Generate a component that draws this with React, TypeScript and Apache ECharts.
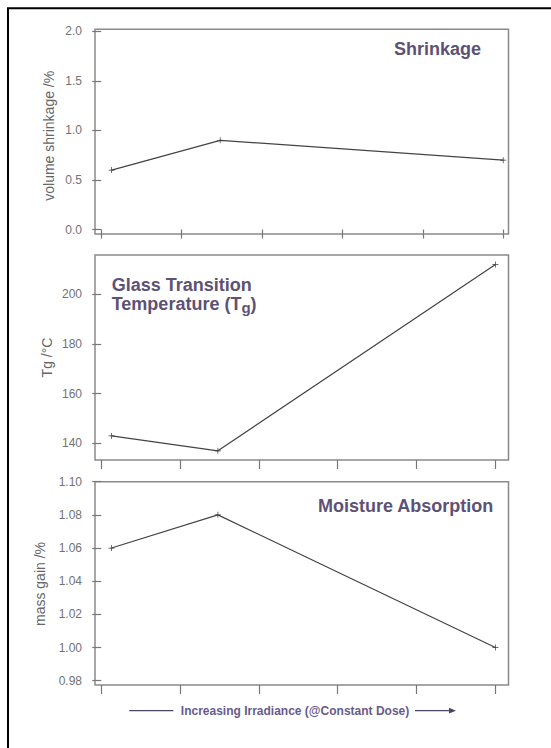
import React, { useEffect, useRef } from "react";
import * as echarts from "echarts";

// Irradiance levels (positions along the shared, unlabelled irradiance axis)
const irradiance = [0.13, 1.48, 5.0];
const xTickValues = [0, 1, 2, 3, 4, 5];

// Measured properties at each irradiance level
const shrinkage = [0.6, 0.9, 0.7];
const glassTransition = [143, 137, 212];
const massGain = [1.06, 1.08, 1.0];

// Tick labels on each vertical axis
const shrinkageTicks = [0, 0.5, 1.0, 1.5, 2.0];
const tgTicks = [140, 160, 180, 200];
const massGainTicks = [0.98, 1.0, 1.02, 1.04, 1.06, 1.08, 1.1];

const FONT = "'Liberation Sans', Arial, Helvetica, sans-serif";
const TITLE_COLOR = "#5d5175";
const AXIS_GRAY = "#8a8a8a";
const LABEL_GRAY = "#727272";
const PLUS = "path://M0,2.2H2.2V0H2.8V2.2H5V2.8H2.8V5H2.2V2.8H0Z";

const panels = [
  { top: 29.3, height: 204.7, yMin: -0.045, yMax: 2.02, xMin: -0.077, xMax: 5.066, ticks: shrinkageTicks, digits: 1, values: shrinkage },
  { top: 255, height: 205, yMin: 133.3, yMax: 215.8, xMin: -0.079, xMax: 5.166, ticks: tgTicks, digits: 0, values: glassTransition },
  { top: 481.7, height: 203.3, yMin: 0.9774, yMax: 1.1, xMin: -0.079, xMax: 5.166, ticks: massGainTicks, digits: 2, values: massGain },
];

export default function App() {
  const ref = useRef<HTMLDivElement>(null);

  useEffect(() => {
    if (!ref.current) return;
    const chart = echarts.init(ref.current, null, { renderer: "svg" });

    const grid = panels.map((p) => ({
      left: 95,
      width: 413.5,
      top: p.top,
      height: p.height,
      show: true,
      borderColor: AXIS_GRAY,
      borderWidth: 1.5,
      backgroundColor: "#fff",
    }));

    const xAxis = panels.map((p, i) => ({
      type: "value",
      gridIndex: i,
      min: p.xMin,
      max: p.xMax,
      axisLine: { show: false },
      axisTick: { show: true, length: 9, customValues: xTickValues, lineStyle: { color: "#777", width: 1.2 } },
      axisLabel: { show: false },
      splitLine: { show: false },
    }));

    const yAxis = panels.map((p, i) => ({
      type: "value",
      gridIndex: i,
      min: p.yMin,
      max: p.yMax,
      axisLine: { show: false },
      axisTick: { show: true, length: 9, customValues: p.ticks, lineStyle: { color: "#777", width: 1.2 } },
      axisLabel: {
        show: true,
        customValues: p.ticks,
        margin: 13,
        color: LABEL_GRAY,
        fontFamily: FONT,
        fontSize: 12,
        formatter: (v: number) => v.toFixed(p.digits),
      },
      splitLine: { show: false },
    }));

    const series = panels.map((p, i) => ({
      type: "line",
      xAxisIndex: i,
      yAxisIndex: i,
      data: irradiance.map((x, k) => [x, p.values[k]]),
      symbol: PLUS,
      symbolSize: 6,
      showSymbol: true,
      itemStyle: { color: "#3c3c3c" },
      lineStyle: { color: "#444", width: 1.2 },
      silent: true,
    }));

    const titleStyle = (text: string) => ({
      text,
      fill: TITLE_COLOR,
      fontFamily: FONT,
      fontWeight: "bold",
      fontSize: 18,
      verticalAlign: "middle",
    });

    const yName = (text: string, x: number, y: number) => ({
      type: "text",
      x,
      y,
      rotation: Math.PI / 2,
      style: {
        text,
        fill: "#666",
        fontFamily: FONT,
        fontSize: 14,
        align: "center",
        verticalAlign: "middle",
      },
    });

    const graphic = [
      // outer frame
      {
        type: "rect",
        shape: { x: 8, y: 8.3, width: 700, height: 900 },
        style: { fill: "none", stroke: "#000", lineWidth: 2 },
        silent: true,
      },
      { type: "text", x: 394, y: 48.5, style: titleStyle("Shrinkage") },
      { type: "text", x: 111.7, y: 284.5, style: titleStyle("Glass Transition") },
      {
        type: "text",
        x: 111.7,
        y: 304,
        style: {
          text: "{a|Temperature (T}{s|g}{a|)}",
          verticalAlign: "middle",
          rich: {
            a: { fill: TITLE_COLOR, fontFamily: FONT, fontWeight: "bold", fontSize: 18, lineHeight: 22, verticalAlign: "middle" },
            s: { fill: TITLE_COLOR, fontFamily: FONT, fontWeight: "bold", fontSize: 15, lineHeight: 22, verticalAlign: "bottom" },
          },
        },
      },
      { type: "text", x: 318, y: 506, style: titleStyle("Moisture Absorption") },
      yName("volume shrinkage /%", 49.3, 135.8),
      yName("Tg /°C", 46.5, 357.5),
      yName("mass gain /%", 40, 584),
      // irradiance arrow under the bottom panel
      { type: "line", shape: { x1: 129.3, y1: 710.7, x2: 173.3, y2: 710.7 }, style: { stroke: "#4e4466", lineWidth: 1.3 } },
      { type: "line", shape: { x1: 415, y1: 710.7, x2: 450, y2: 710.7 }, style: { stroke: "#4e4466", lineWidth: 1.3 } },
      { type: "polygon", shape: { points: [[449, 707.8], [456, 710.7], [449, 713.6]] }, style: { fill: "#4e4466" } },
      {
        type: "text",
        x: 295,
        y: 710.7,
        style: {
          text: "Increasing Irradiance (@Constant Dose)",
          fill: "#685b8c",
          fontFamily: FONT,
          fontWeight: "bold",
          fontSize: 12,
          align: "center",
          verticalAlign: "middle",
        },
      },
    ];

    chart.setOption({
      animation: false,
      backgroundColor: "#fff",
      grid,
      xAxis,
      yAxis,
      series,
      graphic,
    });

    return () => chart.dispose();
  }, []);

  return (
    <div
      ref={ref}
      style={{ position: "fixed", left: 0, top: 0, width: 551, height: 748, background: "#fff" }}
    />
  );
}
